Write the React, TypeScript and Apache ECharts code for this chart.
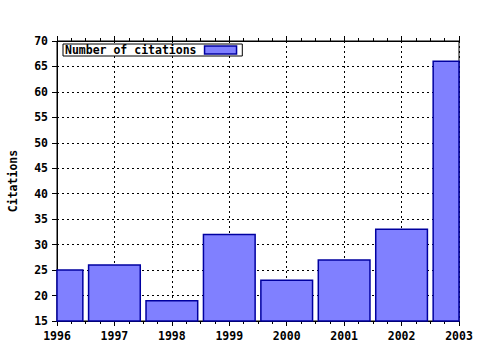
import React, { useEffect, useRef } from "react";
import * as echarts from "echarts";

const years = [1996, 1997, 1998, 1999, 2000, 2001, 2002, 2003];
const citations = [25, 26, 19, 32, 23, 27, 33, 66];
const seriesName = "Number of citations";
const yAxisName = "Citations";

const FONT = "DejaVu Sans Mono";
const FS = 11.5;
const BAR_FILL = "#8080ff";
const BAR_STROKE = "#0000a0";

export default function App() {
  const ref = useRef<HTMLDivElement>(null);
  useEffect(() => {
    if (!ref.current) return;
    const chart = echarts.init(ref.current, undefined, { renderer: "svg" });
    const data = years.map((y, i) => [y, citations[i]]);
    chart.setOption({
      animation: false,
      backgroundColor: "#ffffff",
      textStyle: { fontFamily: FONT },
      grid: {
        left: 57,
        right: 21,
        top: 41,
        bottom: 29,
        containLabel: false,
        outerBoundsMode: "none",
        show: true,
        borderColor: "#000",
        borderWidth: 1,
        backgroundColor: "transparent",
      },
      legend: {
        show: true,
        left: 63,
        top: 44,
        align: "right",
        padding: [0, 5, 0, 2],
        borderColor: "#000",
        borderWidth: 1,
        backgroundColor: "#fff",
        itemWidth: 32,
        itemHeight: 8,
        textStyle: {
          fontFamily: FONT,
          fontWeight: "bold",
          fontSize: FS,
          color: "#000",
          padding: [0, 3, 0, 0],
        },
        data: [
          {
            name: seriesName,
            icon: "rect",
            itemStyle: { color: BAR_FILL, borderColor: BAR_STROKE, borderWidth: 1.5 },
          },
        ],
      },
      xAxis: [
        {
          type: "value",
          position: "bottom",
          min: 1996,
          max: 2003,
          interval: 1,
          axisLine: { show: true, lineStyle: { color: "#000", width: 1 } },
          axisTick: { show: true, inside: false, length: 5, lineStyle: { color: "#000" } },
          minorTick: { show: true, splitNumber: 4, length: 3, lineStyle: { color: "#000" } },
          axisLabel: {
            show: true,
            margin: 9,
            color: "#000",
            fontFamily: FONT,
            fontWeight: "bold",
            fontSize: FS,
            formatter: (v: number) => String(v),
          },
          splitLine: { show: true, lineStyle: { color: "#000", type: [2, 3], width: 1 } },
        },
        {
          type: "value",
          position: "top",
          min: 1996,
          max: 2003,
          interval: 1,
          axisLine: { show: true, lineStyle: { color: "#000", width: 1 } },
          axisTick: { show: true, inside: false, length: 5, lineStyle: { color: "#000" } },
          minorTick: { show: true, splitNumber: 4, length: 3, lineStyle: { color: "#000" } },
          axisLabel: { show: false },
          splitLine: { show: false },
        },
      ],
      yAxis: {
        type: "value",
        min: 15,
        max: 70,
        interval: 5,
        name: yAxisName,
        nameLocation: "middle",
        nameGap: 38,
        nameTextStyle: { fontFamily: FONT, fontWeight: "bold", fontSize: FS, color: "#000" },
        axisLine: { show: true, lineStyle: { color: "#000", width: 1 } },
        axisTick: { show: true, inside: false, length: 5, lineStyle: { color: "#000" } },
        axisLabel: {
          show: true,
          margin: 9,
          color: "#000",
          fontFamily: FONT,
          fontWeight: "bold",
          fontSize: FS,
        },
        splitLine: { show: true, lineStyle: { color: "#000", type: [2, 3], width: 1 } },
      },
      series: [
        {
          name: seriesName,
          type: "custom",
          xAxisIndex: 0,
          data,
          encode: { x: 0, y: 1 },
          itemStyle: { color: BAR_FILL, borderColor: BAR_STROKE, borderWidth: 1.5 },
          renderItem: (params: any, api: any) => {
            const x = api.value(0);
            const y = api.value(1);
            const top = api.coord([x, y]);
            const cs = params.coordSys;
            const w = api.size([1, 0])[0] * 0.9;
            const shape = echarts.graphic.clipRectByRect(
              { x: top[0] - w / 2, y: top[1], width: w, height: cs.y + cs.height - top[1] },
              { x: cs.x, y: cs.y, width: cs.width, height: cs.height }
            );
            if (!shape) return null;
            return {
              type: "rect",
              shape,
              style: { fill: BAR_FILL, stroke: BAR_STROKE, lineWidth: 1.5 },
            };
          },
        },
      ],
    });
    return () => chart.dispose();
  }, []);
  return (
    <div
      ref={ref}
      style={{ position: "absolute", left: 0, top: 0, width: 480, height: 350 }}
    />
  );
}
